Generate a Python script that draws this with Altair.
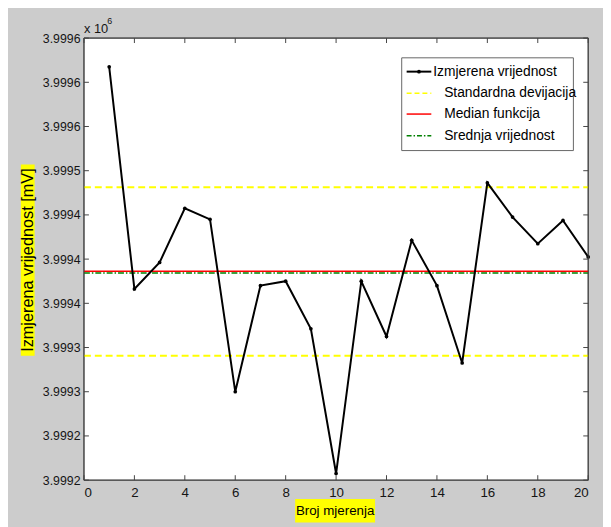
import altair as alt
import pandas as pd

# ---- data ----
measurement_no = [1, 2, 3, 4, 5, 6, 7, 8, 9, 10, 11, 12, 13, 14, 15, 16, 17, 18, 19, 20]
measured_mv = [3999574, 3999373, 3999397, 3999446, 3999436, 3999280, 3999376, 3999380,
               3999337, 3999206, 3999380, 3999330, 3999417, 3999376, 3999306, 3999469,
               3999438, 3999414, 3999435, 3999402]
std_upper = 3999465
std_lower = 3999312.5
median_mv = 3999389
mean_mv = 3999387.5
x_ticks = [0, 2, 4, 6, 8, 10, 12, 14, 16, 18, 20]
y_ticks = [3999200, 3999240, 3999280, 3999320, 3999360, 3999400,
           3999440, 3999480, 3999520, 3999560, 3999600]
y_tick_labels = ["3.9992", "3.9992", "3.9993", "3.9993", "3.9994", "3.9994",
                 "3.9994", "3.9995", "3.9996", "3.9996", "3.9996"]
legend_labels = ["Izmjerena vrijednost", "Standardna devijacija", "Median funkcija", "Srednja vrijednost"]
x_title = "Broj mjerenja"
y_title = "Izmjerena vrijednost [mV]"

FONT = "Liberation Sans, Arial, sans-serif"
W, H = 511, 448
Y0, Y1 = y_ticks[0], y_ticks[-1]

df = pd.DataFrame({"n": measurement_no, "v": measured_mv})
one = pd.DataFrame({"k": [0]})

xs = alt.Scale(domain=[0, 20], nice=False, zero=False)
ys = alt.Scale(domain=[Y0, Y1], nice=False, zero=False)

label_arr = "[" + ",".join("'%s'" % s for s in y_tick_labels) + "]"
step = y_ticks[1] - y_ticks[0]

x_axis = alt.Axis(values=x_ticks, title=None, domain=False, ticks=False, grid=False,
                  labelFont=FONT, labelFontSize=13.5, labelColor="#151515", labelPadding=6)
y_axis = alt.Axis(values=y_ticks, title=None, domain=False, ticks=False, grid=False,
                  labelFont=FONT, labelFontSize=12.5, labelColor="#151515", labelPadding=4,
                  labelExpr=label_arr + "[round((datum.value-%d)/%d)]" % (Y0, step))

# white plot area
bg = alt.Chart(one).mark_rect(fill="white", stroke="#444444", strokeWidth=1).encode(
    x=alt.value(0), x2=alt.value(W), y=alt.value(0), y2=alt.value(H))

# measured series
line = alt.Chart(df).mark_line(color="black", strokeWidth=2).encode(
    x=alt.X("n:Q", scale=xs, axis=x_axis),
    y=alt.Y("v:Q", scale=ys, axis=y_axis))
pts = alt.Chart(df).mark_circle(color="black", size=14, opacity=1).encode(
    x=alt.X("n:Q", scale=xs), y=alt.Y("v:Q", scale=ys))

def hrule(val, color, dash, width):
    d = pd.DataFrame({"v": [val]})
    kw = dict(color=color, strokeWidth=width)
    if dash:
        kw["strokeDash"] = dash
    return alt.Chart(d).mark_rule(**kw).encode(
        y=alt.Y("v:Q", scale=ys), x=alt.value(0), x2=alt.value(W))

std_hi = hrule(std_upper, "#ffff00", [7, 4], 2)
std_lo = hrule(std_lower, "#ffff00", [7, 4], 2)
mean_r = hrule(mean_mv, "#008000", [6, 2, 1.5, 2], 1.5)
med_r = hrule(median_mv, "#ff0000", None, 1.5)

# inward ticks on all four sides
xt = pd.DataFrame({"t": x_ticks})
yt = pd.DataFrame({"t": y_ticks})
tick_style = dict(color="#444444", strokeWidth=1)
xt_bot = alt.Chart(xt).mark_rule(**tick_style).encode(
    x=alt.X("t:Q", scale=xs), y=alt.value(H), y2=alt.value(H - 5))
xt_top = alt.Chart(xt).mark_rule(**tick_style).encode(
    x=alt.X("t:Q", scale=xs), y=alt.value(0), y2=alt.value(5))
yt_left = alt.Chart(yt).mark_rule(**tick_style).encode(
    y=alt.Y("t:Q", scale=ys), x=alt.value(0), x2=alt.value(5))
yt_right = alt.Chart(yt).mark_rule(**tick_style).encode(
    y=alt.Y("t:Q", scale=ys), x=alt.value(W), x2=alt.value(W - 5))

frame = alt.Chart(one).mark_rect(fill=None, stroke="#444444", strokeWidth=1).encode(
    x=alt.value(0), x2=alt.value(W), y=alt.value(0), y2=alt.value(H))

# legend
lx0, lx1, ly0, ly1 = 322, 496, 20, 114
rows_y = [34, 56, 77, 99]
leg_layers = [alt.Chart(one).mark_rect(fill="white", stroke="#666666", strokeWidth=1).encode(
    x=alt.value(lx0), x2=alt.value(lx1), y=alt.value(ly0), y2=alt.value(ly1))]
styles = [("black", None, 2), ("#ffff00", [5, 3], 1.5), ("#ff0000", None, 1.5), ("#008000", [5, 2, 1.5, 2], 1.5)]
for i, (lab, (c, dash, w)) in enumerate(zip(legend_labels, styles)):
    kw = dict(color=c, strokeWidth=w)
    if dash:
        kw["strokeDash"] = dash
    leg_layers.append(alt.Chart(one).mark_rule(**kw).encode(
        x=alt.value(327), x2=alt.value(352), y=alt.value(rows_y[i])))
    tx = 354 if i == 0 else 365
    leg_layers.append(alt.Chart(one).mark_text(
        align="left", baseline="middle", font=FONT, fontSize=14, color="black").encode(
        x=alt.value(tx), y=alt.value(rows_y[i]), text=alt.value(lab)))
leg_layers.append(alt.Chart(one).mark_circle(color="black", size=14, opacity=1).encode(
    x=alt.value(339.5), y=alt.value(rows_y[0])))

# axis titles with yellow background
yt_box = alt.Chart(one).mark_rect(fill="#ffff00").encode(
    x=alt.value(-64), x2=alt.value(-50), y=alt.value(128), y2=alt.value(322))
yt_txt = alt.Chart(one).mark_text(angle=270, align="center", baseline="middle",
                                  font=FONT, fontSize=16.5, color="black").encode(
    x=alt.value(-57), y=alt.value(225), text=alt.value(y_title))
xt_box = alt.Chart(one).mark_rect(fill="#ffff00").encode(
    x=alt.value(214), x2=alt.value(295), y=alt.value(467), y2=alt.value(491))
xt_txt = alt.Chart(one).mark_text(align="center", baseline="middle",
                                  font=FONT, fontSize=13.5, color="black").encode(
    x=alt.value(254.5), y=alt.value(479), text=alt.value(x_title))

# exponent
exp_a = alt.Chart(one).mark_text(align="left", baseline="middle", font=FONT, fontSize=13,
                                 color="#151515").encode(
    x=alt.value(0), y=alt.value(-9.5), text=alt.value("x 10"))
exp_b = alt.Chart(one).mark_text(align="left", baseline="middle", font=FONT, fontSize=9,
                                 color="#151515").encode(
    x=alt.value(23.5), y=alt.value(-17.5), text=alt.value("6"))

chart = alt.layer(
    bg, std_hi, std_lo, mean_r, med_r, line, pts,
    xt_bot, xt_top, yt_left, yt_right, frame,
    *leg_layers, yt_box, yt_txt, xt_box, xt_txt, exp_a, exp_b
).properties(
    width=W, height=H,
    padding={"left": 77, "top": 27, "right": 15, "bottom": 44},
    autosize=alt.AutoSizeParams(type="none"),
    background="#cccccc"
).configure_view(stroke=None)

chart.save("out.html", embed_options={"renderer": "svg", "actions": False})
